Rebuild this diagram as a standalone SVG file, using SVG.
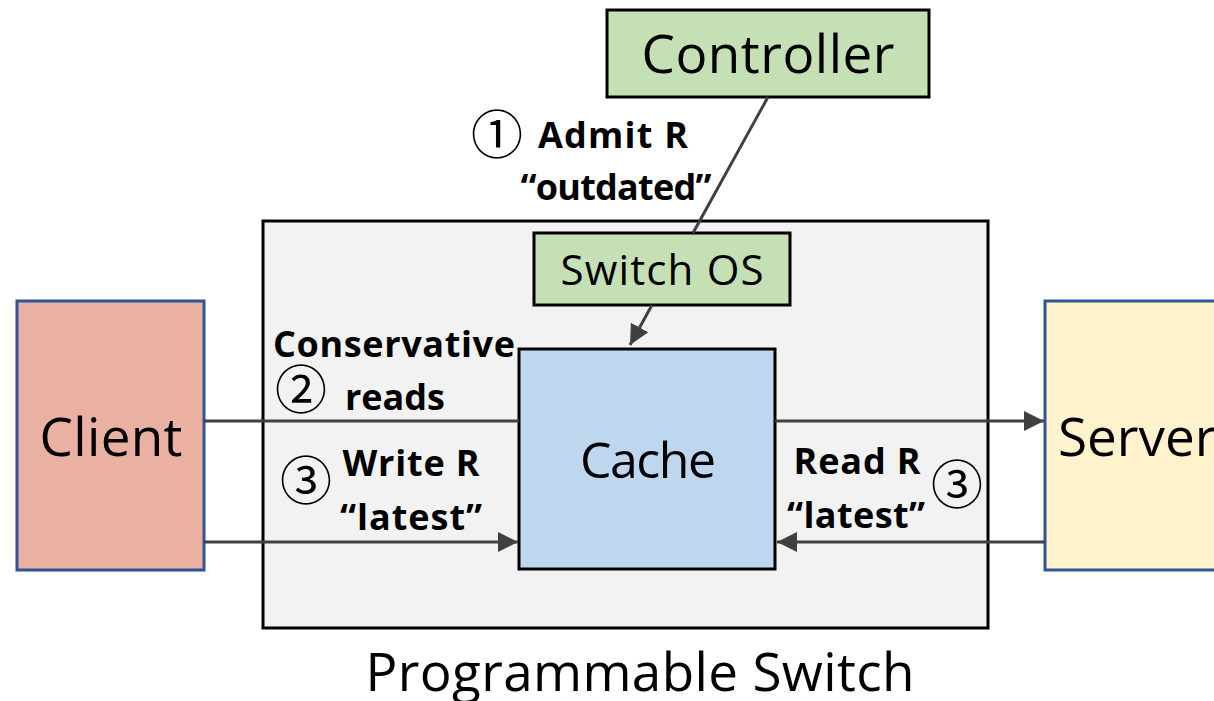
<svg xmlns="http://www.w3.org/2000/svg" width="1214" height="701" viewBox="0 0 1214 701">
<defs>
<style>
.box{stroke:#000;stroke-width:3}
.ep{stroke:#2f5597;stroke-width:3}
.big{font-family:"Open Sans","Noto Sans",sans-serif;font-size:53px;fill:#000}
.lbl{font-family:"Open Sans","Noto Sans",sans-serif;font-weight:bold;font-size:36px;fill:#000}
.num{font-family:"Noto Sans CJK SC","DejaVu Sans",sans-serif;font-size:52px;fill:#000}
.conn{stroke:#404040;stroke-width:3;fill:none}
</style>
<marker id="arr" viewBox="0 0 10 10" refX="10" refY="5" markerWidth="20" markerHeight="20" markerUnits="userSpaceOnUse" orient="auto">
<path d="M0,0 L10,5 L0,10 z" fill="#404040"/>
</marker>
</defs>
<rect width="1214" height="701" fill="#fff"/>
<g id="switch">
<rect class="box" x="263" y="221" width="725" height="407" fill="#f2f2f2"/>
<text class="big" x="640" y="691" text-anchor="middle" textLength="549">Programmable Switch</text>
</g>
<g id="controller">
<rect class="box" x="607" y="10" width="322" height="87" fill="#c5e0b4"/>
<text class="big" x="768" y="73" text-anchor="middle" textLength="253">Controller</text>
</g>
<g id="switchos">
<rect class="box" x="534" y="233" width="256" height="72" fill="#c5e0b4"/>
<text class="big" x="662" y="285" text-anchor="middle" style="font-size:42px" textLength="203">Switch OS</text>
</g>
<g id="cache">
<rect class="box" x="519" y="349" width="256" height="220" fill="#bdd7ee"/>
<text class="big" x="648" y="478" text-anchor="middle" style="font-size:50px" textLength="136">Cache</text>
</g>
<g id="client">
<rect class="ep" x="17" y="301" width="187" height="269" fill="#eab1a2"/>
<text class="big" x="111" y="456" text-anchor="middle" textLength="143">Client</text>
</g>
<g id="server">
<rect class="ep" x="1045" y="301" width="175" height="269" fill="#fff2cc"/>
<text class="big" x="1058" y="456">Server</text>
</g>
<g id="connectors">
<line class="conn" x1="768" y1="97" x2="693" y2="233"/>
<line class="conn" x1="652" y1="305" x2="630" y2="345" marker-end="url(#arr)"/>
<line class="conn" x1="204" y1="421" x2="519" y2="421"/>
<line class="conn" x1="775" y1="421" x2="1044" y2="421" marker-end="url(#arr)"/>
<line class="conn" x1="204" y1="542" x2="518" y2="542" marker-end="url(#arr)"/>
<line class="conn" x1="1045" y1="542" x2="777" y2="542" marker-end="url(#arr)"/>
</g>
<g id="labels">
<text class="num" x="497" y="154" text-anchor="middle">①</text>
<text class="lbl" x="538" y="148" textLength="150">Admit R</text>
<text class="lbl" x="616" y="200" text-anchor="middle" textLength="191">“outdated”</text>
<text class="lbl" x="394" y="357" text-anchor="middle" textLength="242">Conservative</text>
<text class="num" x="301" y="409" text-anchor="middle">②</text>
<text class="lbl" x="395" y="410" text-anchor="middle" textLength="100">reads</text>
<text class="num" x="306" y="500" text-anchor="middle">③</text>
<text class="lbl" x="411" y="476" text-anchor="middle" textLength="137">Write R</text>
<text class="lbl" x="411" y="530" text-anchor="middle" textLength="142">“latest”</text>
<text class="lbl" x="857" y="474" text-anchor="middle" textLength="127">Read R</text>
<text class="num" x="957" y="504" text-anchor="middle">③</text>
<text class="lbl" x="856" y="528" text-anchor="middle" textLength="138">“latest”</text>
</g>
</svg>
